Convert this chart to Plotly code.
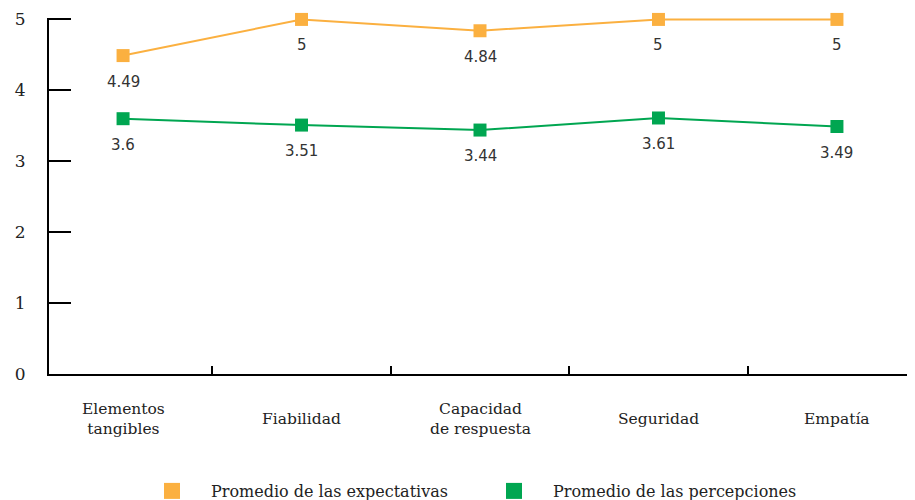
import plotly.graph_objects as go

categories = ["Elementos<br>tangibles", "Fiabilidad", "Capacidad<br>de respuesta", "Seguridad", "Empatía"]
expectativas = [4.49, 5, 4.84, 5, 5]
percepciones = [3.6, 3.51, 3.44, 3.61, 3.49]
y_ticks = [0, 1, 2, 3, 4, 5]

orange = "#FBB040"
green = "#00A651"
xs = list(range(len(categories)))

fig = go.Figure()
for vals, col in [(expectativas, orange), (percepciones, green)]:
    fig.add_trace(go.Scatter(
        x=xs, y=vals, mode="lines+markers",
        line=dict(color=col, width=2), marker=dict(symbol="square", size=13, color=col),
        cliponaxis=False, showlegend=False))
    for x, v in zip(xs, vals):
        fig.add_annotation(x=x, y=v, text=f"{v:g}", showarrow=False, yshift=-26,
                           font=dict(family="DejaVu Sans", size=15, color="#333333"))

for x, lab in zip(xs, categories):
    fig.add_annotation(x=x, y=-0.127, yref="paper", text=lab, showarrow=False,
                       yanchor="middle", font=dict(family="DejaVu Serif", size=15.5, color="#222222"))

for name, col in [("Promedio de las expectativas", orange), ("Promedio de las percepciones", green)]:
    fig.add_trace(go.Scatter(x=[None], y=[None], mode="markers", name=name,
                             marker=dict(symbol="square", size=16, color=col)))

fig.update_layout(
    width=915, height=500,
    margin=dict(l=41, r=7, t=10, b=134),
    plot_bgcolor="white", paper_bgcolor="white",
    font=dict(family="DejaVu Serif", size=14, color="#222222"),
    xaxis=dict(
        range=[-0.415, 4.443], tickvals=xs, ticktext=[""] * len(xs), automargin=False,
        ticks="", showgrid=False, zeroline=False,
        showline=True, linecolor="black", linewidth=2,
        minor=dict(tickvals=[0.5, 1.5, 2.5, 3.5], ticks="inside", ticklen=8,
                   tickcolor="black", tickwidth=2, showgrid=False),
    ),
    yaxis=dict(
        range=[0, 5.02], tickvals=y_ticks, ticks="inside", ticklen=22, automargin=False,
        tickcolor="black", tickwidth=2, showgrid=False, zeroline=False,
        showline=True, linecolor="black", linewidth=2,
        ticklabelstandoff=18,
        tickfont=dict(family="DejaVu Serif", size=17, color="#222222"),
    ),
    legend=dict(orientation="h", xref="container", x=125 / 915, xanchor="left",
                yref="container", y=0.034, yanchor="middle",
                itemwidth=68, entrywidth=259, entrywidthmode="pixels",
                font=dict(family="DejaVu Serif", size=16, color="#222222")),
)
fig.write_html("out.html")
